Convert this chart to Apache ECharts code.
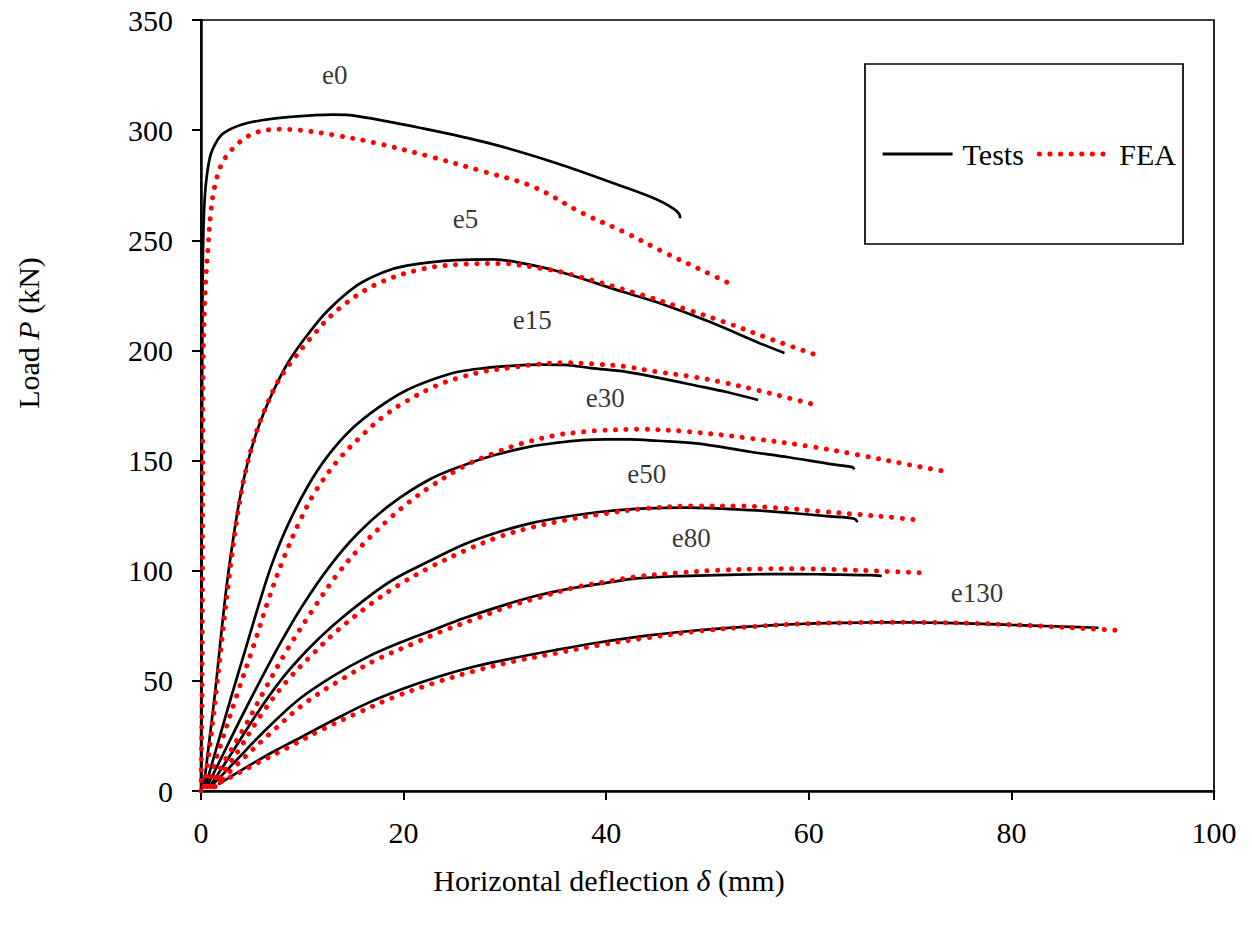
<!DOCTYPE html>
<html>
<head>
<meta charset="utf-8">
<script src="https://cdn.jsdelivr.net/npm/echarts@6/dist/echarts.min.js"></script>
<style>
html, body { margin: 0; padding: 0; background: #fff; }
#chart { width: 1252px; height: 930px; }
</style>
</head>
<body>
<div id="chart"></div>
<script>
// load-deflection curves, x = deflection (mm), y = load (kN)
var curveNames = ["e0", "e5", "e15", "e30", "e50", "e80", "e130"];

var testE0 = [[0,0],[0.05,80],[0.1,160],[0.15,225],[0.25,256],[0.45,274],[0.9,288],[1.5,294.5],[2.2,298.5],[3.9,302.3],[6,304.5],[8.8,306],[13,307],[15.4,306.4],[21.9,300.8],[28.5,294],[35.1,285],[41.7,274.3],[45,268.5],[46.6,264.5],[47.2,262],[47.3,260]];
var feaE0 = [[0,0],[0.1,40],[0.15,100],[0.18,160],[0.23,200],[0.45,230],[0.72,248],[0.95,262],[1.38,275],[2.2,286],[3.85,294.7],[5.5,299],[7.8,300.4],[9.8,300],[13.1,297.8],[17.4,294],[22.6,288],[27.9,281.2],[32.8,274.3],[37.7,262.2],[41.7,253.9],[45.6,244.8],[49.4,236.5],[52.5,229.7]];

var testE5 = [[0.3,3],[0.8,22],[1.4,45],[1.9,67],[2.5,92],[3.1,112],[3.8,132],[4.6,149],[5.5,163],[6.5,175],[7.6,186],[8.8,196],[10.5,207],[12.5,218],[15.4,229.5],[18,235.5],[20.3,238.5],[25.2,241],[28.9,241.3],[31.8,239.5],[35.4,235.7],[41.7,226.5],[45.3,221.4],[50.2,213],[55.2,203.2],[57.6,198.8]];
var feaE5 = [[0.3,2],[0.8,18],[1.5,45],[2.2,74],[2.8,98],[3.5,122],[4.3,143],[5.2,159],[6.2,172],[7.5,185],[8.8,194],[10.9,206],[13.5,218.5],[17.3,230],[21.9,237],[26.2,239.2],[29.5,239.5],[33.5,237.3],[36.1,235],[43.3,225.5],[48,218.5],[51.6,213],[56.5,204.7],[60.8,197.8]];

var testE15 = [[0.5,3],[1.5,19],[3,43],[4.5,66],[5.8,86],[7,103],[8.5,120],[10.5,138],[12.5,152],[14.8,164],[17.5,174],[20.1,181.5],[23,187],[25.4,190.3],[28,192],[30.6,193],[33.5,193.6],[35.9,193.4],[38.5,192],[42,190.3],[44.7,188],[48.6,184.3],[52,181],[55,177.5]];
var feaE15 = [[0.6,2],[1.8,19],[3.5,43],[5.2,66],[6.6,86],[8.1,105],[9.7,122],[11.3,136],[13.5,150],[15.8,161],[18,170],[20.1,176.5],[23,183.5],[25.4,187.5],[28,190.5],[30.6,192.2],[33,193.6],[35.9,194.4],[39,193.8],[42,192.6],[44.7,190.5],[48.6,188],[51.5,185.5],[54.9,182],[57.5,179],[60.2,175.8]];

var testE30 = [[0.7,3],[2,15],[3.5,29],[5.5,47],[7.7,66],[10,84],[12.7,102],[15.5,117],[18.7,130],[22.6,141.5],[26,148],[29,152.5],[32.5,156.3],[35,158],[37.7,159.3],[40,159.6],[42.3,159.6],[45,159],[48.9,157.8],[54.2,154],[58,151.5],[62,148.5],[64.3,147],[64.5,146]];
var feaE30 = [[0.9,2],[2.5,15],[4.3,29],[6.3,46],[8.5,64],[11,82],[13.4,98],[16,112],[18.7,124],[20.5,131],[22.6,138],[26,147.5],[29,153.5],[31.5,157.5],[35,161.5],[37.7,163],[39.1,163.6],[43.3,164.2],[48,163.2],[54.2,160.1],[60,156.5],[65,152.5],[70,148],[73.2,145.3]];

var testE50 = [[1,3],[3,17],[5.5,35],[8,51],[10.5,64],[13,75],[16.2,87],[19,96],[22.6,104.5],[26,112],[29,117],[32.5,121.5],[36,124.5],[40,127],[44,128.3],[48,128.6],[54.2,127.5],[58,126.3],[62,124.7],[64.5,123.6],[64.8,122]];
var feaE50 = [[1.2,2],[3.5,17],[6,35],[8.5,50],[11,62],[13.5,73],[16.8,85],[19.5,93.5],[22.6,101.5],[26,109],[29.5,115.5],[32.5,119.5],[36,123],[40,126],[44,128.3],[48.9,129.4],[53,129.4],[57,128.5],[61,127],[65,125.5],[68,124.3],[70.8,123]];

var testE80 = [[1.2,3],[3.5,14],[6,26],[9.5,41],[13,52],[16.5,61],[20,68],[22.6,72.5],[26,78.5],[30,84.5],[33,88.5],[36.5,92],[40,94.5],[43,96.5],[47,97.5],[51,98],[55,98.4],[59,98.5],[63,98.2],[66,98],[67.2,97.6]];
var feaE80 = [[1.4,2],[4,14],[6.8,26],[10.3,40],[14,51],[17.5,60],[21,67],[23.5,72],[27,78],[30.5,84],[33.5,88],[37,92.5],[40,95],[43,97.3],[47,99],[51,100.2],[55.2,100.8],[59,100.9],[63,100.5],[67,99.8],[70.9,99.1]];

var testE130 = [[1.7,3],[4,9.5],[7,17.5],[9.5,23.5],[13,32],[16.5,40],[20,46.5],[23.5,52],[27,56.5],[30.5,60],[35,64],[39.1,67.3],[44,70.5],[49.3,73.1],[54,74.6],[59.1,75.8],[63,76.3],[67.4,76.6],[71,76.5],[75.6,76.1],[80,75.4],[84,74.8],[88.6,74.1]];
var feaE130 = [[1,2],[3,6.5],[5.5,12.5],[8.5,19.5],[12,28],[15.5,35.5],[19,42.5],[23,49],[27,54.5],[31,59],[35,62.5],[39,66],[44,69.5],[49,72.5],[54,74.5],[59,75.8],[64,76.4],[68,76.6],[72,76.5],[76,76.1],[80,75.5],[84,74.6],[87.5,73.7],[91,72.8]];

var testCurves = [testE0, testE5, testE15, testE30, testE50, testE80, testE130];
var feaCurves = [feaE0, feaE5, feaE15, feaE30, feaE50, feaE80, feaE130];

// where the curve names sit (data coords)
var labelX = [13.2, 26.1, 32.7, 39.9, 44.0, 48.4, 76.6];
var labelY = [325, 259.5, 213.8, 178.4, 143.9, 115, 90];

var serif = "'Liberation Serif', 'Times New Roman', serif";

var testLine = { color: "#000", width: 2.7 };
var feaLine = { color: "#ff0000", width: 5, type: [0.1, 10.5], cap: "round" };

var chart = echarts.init(document.getElementById("chart"), null, { renderer: "svg" });

var series = [];
testCurves.forEach(function (d) {
  series.push({
    name: "Tests",
    type: "line",
    data: d,
    symbol: "none",
    smooth: 0.35,
    lineStyle: testLine,
    itemStyle: { color: "#000" },
    z: 2
  });
});
feaCurves.forEach(function (d) {
  series.push({
    name: "FEA",
    type: "line",
    data: d,
    symbol: "none",
    smooth: 0.35,
    lineStyle: feaLine,
    itemStyle: { color: "#ff0000" },
    z: 3
  });
});
series.push({
  type: "scatter",
  data: curveNames.map(function (n, i) { return { name: n, value: [labelX[i], labelY[i]] }; }),
  symbolSize: 0,
  silent: true,
  label: {
    show: true,
    position: "inside",
    formatter: "{b}",
    fontFamily: serif,
    fontSize: 27,
    color: "#000"
  },
  z: 4
});

var option = {
  animation: false,
  backgroundColor: "#fff",
  grid: {
    left: 201,
    top: 20,
    right: 38,
    bottom: 139,
    show: true,
    borderColor: "#000",
    borderWidth: 1.7,
    containLabel: false
  },
  legend: {
    data: [
      { name: "Tests", lineStyle: { color: "#000", width: 3.2 } },
      { name: "FEA", lineStyle: { color: "#ff0000", width: 5, type: [0.1, 10.5], cap: "round" } }
    ],
    left: 865,
    top: 64,
    padding: [75, 7, 75, 16],
    itemWidth: 70,
    itemHeight: 14,
    itemGap: 13,
    borderColor: "#000",
    borderWidth: 1.7,
    backgroundColor: "#fff",
    selectedMode: false,
    itemStyle: { opacity: 0 },
    textStyle: { fontFamily: serif, fontSize: 30, color: "#000", padding: [0, 0, 0, 5] }
  },
  xAxis: {
    type: "value",
    min: 0,
    max: 100,
    interval: 20,
    splitLine: { show: false },
    axisLine: { onZero: false, lineStyle: { color: "#000", width: 2.5 } },
    axisTick: { show: true, length: 9, lineStyle: { color: "#000", width: 2 } },
    axisLabel: { margin: 26, fontFamily: serif, fontSize: 30, color: "#000" }
  },
  yAxis: {
    type: "value",
    min: 0,
    max: 350,
    interval: 50,
    splitLine: { show: false },
    axisLine: { show: true, onZero: false, lineStyle: { color: "#000", width: 2.5 } },
    axisTick: { show: true, length: 9, lineStyle: { color: "#000", width: 2 } },
    axisLabel: { margin: 28, fontFamily: serif, fontSize: 30, color: "#000" }
  },
  graphic: [
    {
      type: "text",
      x: 609,
      y: 880,
      style: {
        text: "{a|Horizontal deflection }{b|δ}{a| (mm)}",
        align: "center",
        verticalAlign: "middle",
        rich: {
          a: { fontFamily: serif, fontSize: 30, fill: "#000" },
          b: { fontFamily: serif, fontSize: 30, fontStyle: "italic", fill: "#000" }
        }
      }
    },
    {
      type: "text",
      x: 28,
      y: 333,
      rotation: Math.PI / 2,
      style: {
        text: "{a|Load }{b|P}{a| (kN)}",
        align: "center",
        verticalAlign: "middle",
        rich: {
          a: { fontFamily: serif, fontSize: 30, fill: "#000" },
          b: { fontFamily: serif, fontSize: 30, fontStyle: "italic", fill: "#000" }
        }
      }
    }
  ],
  series: series
};

chart.setOption(option);
</script>
</body>
</html>
